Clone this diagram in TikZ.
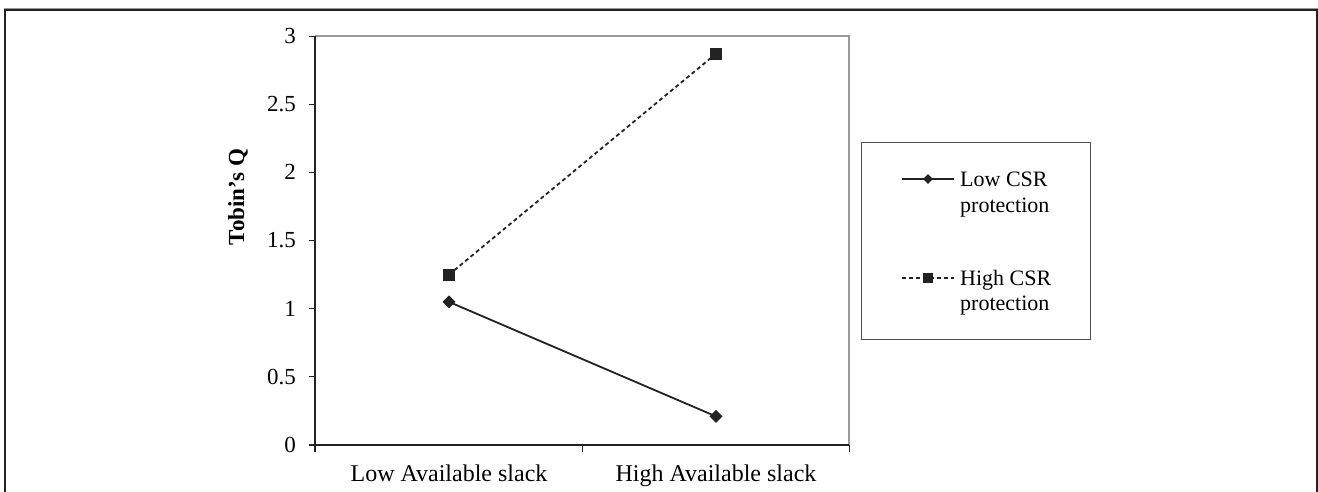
\documentclass[tikz,border=0pt]{standalone}
\usepackage{fontspec}
\setmainfont{Liberation Serif}
\usetikzlibrary{shapes.geometric}

\definecolor{ink}{HTML}{222222}
\definecolor{frame}{HTML}{999999}

\tikzset{
  axisline/.style={draw=ink, line width=1.3pt},
  plotframe/.style={draw=frame, line width=1.6pt},
  tickline/.style={draw=ink, line width=1pt},
  ticklabel/.style={anchor=east, inner sep=0pt, font=\fontsize{23}{27}\selectfont},
  catlabel/.style={anchor=base, inner sep=0pt, font=\fontsize{24}{28}\selectfont},
  legtext/.style={anchor=base west, inner sep=0pt, font=\fontsize{22}{26}\selectfont},
  lowmark/.style={diamond, fill=ink, draw=none, inner sep=0pt, minimum width=13pt, minimum height=13pt},
  highmark/.style={rectangle, fill=ink, draw=none, inner sep=0pt, minimum size=12pt},
  lowmarksmall/.style={diamond, fill=ink, draw=none, inner sep=0pt, minimum width=10pt, minimum height=10pt},
  highmarksmall/.style={rectangle, fill=ink, draw=none, inner sep=0pt, minimum size=10pt},
  lowline/.style={draw=ink, line width=1.8pt},
  highline/.style={draw=ink, line width=1.8pt, dash pattern=on 4pt off 3pt},
}

\begin{document}
\begin{tikzpicture}[x=1pt, y=-1pt]
  \useasboundingbox (0,0) rectangle (1318,492);

  % outer frame, open at the bottom
  \draw[draw=frame, line width=1pt] (4,491) -- (4,9) -- (1318,9);
  \draw[draw=ink, line width=1.6pt] (5,492) -- (5,10) -- (1317,10) -- (1317,492);

  % plot area: light top and right edges
  \draw[plotframe] (315,36) -- (849,36) -- (849,445);

  % axes
  \draw[axisline] (315,36) -- (315,452);
  \draw[axisline] (309,445) -- (849,445);

  % y ticks and labels
  \foreach \v/\lab in {0/0, 0.5/0.5, 1/1, 1.5/1.5, 2/2, 2.5/2.5, 3/3} {
    \draw[tickline] (309,{445-\v*136.33}) -- (315,{445-\v*136.33});
    \node[ticklabel] (t\lab) at (296,{445-\v*136.33}) {\lab};
  }

  % x ticks
  \foreach \xx in {315, 582, 849}
    \draw[tickline] (\xx,445) -- (\xx,452);

  % category labels
  \node[catlabel] (catlow) at (449,481) {Low Available slack};
  \node[catlabel] (cathigh) at (716,481) {High Available slack};

  % axis title
  \node[rotate=90, inner sep=0pt, font=\fontsize{23}{27}\selectfont\bfseries] (ytitle) at (238,197) {Tobin's Q};

  % series: low CSR protection
  \node[lowmark] (l1) at (449,301.9) {};
  \node[lowmark] (l2) at (716,416.4) {};
  \draw[lowline] (l1.center) -- (l2.center);

  % series: high CSR protection
  \node[highmark] (h1) at (449,274.6) {};
  \node[highmark] (h2) at (716,53.7) {};
  \draw[highline] (h1.center) -- (h2.center);

  % legend
  \node[draw=ink!80, line width=1pt, minimum width=229pt, minimum height=197pt, inner sep=0pt, anchor=north west] (legend) at (861,142) {};

  \coordinate (la) at (902,179);
  \coordinate (lb) at (954,179);
  \draw[lowline, line width=1.5pt] (la) -- (lb);
  \node[lowmarksmall] (lm) at (928,179) {};
  \node[legtext] (lt1) at (960,186) {Low CSR};
  \node[legtext] (lt2) at (960,212) {protection};

  \coordinate (ha) at (902,278);
  \coordinate (hb) at (954,278);
  \draw[highline, line width=1.5pt] (ha) -- (hb);
  \node[highmarksmall] (hm) at (928,278) {};
  \node[legtext] (ht1) at (960,285) {High CSR};
  \node[legtext] (ht2) at (960,310) {protection};
\end{tikzpicture}
\end{document}
